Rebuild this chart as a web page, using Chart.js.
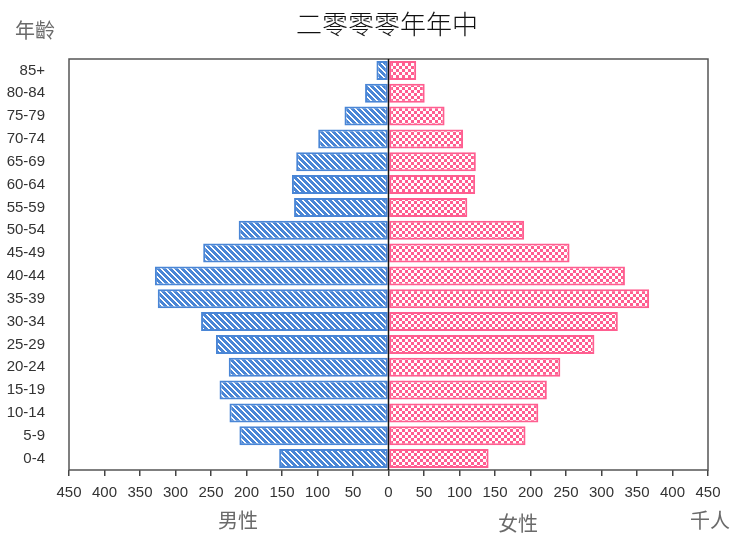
<!DOCTYPE html>
<html>
<head>
<meta charset="utf-8">
<script src="https://cdn.jsdelivr.net/npm/chart.js@4"></script>
<style>
  html, body { margin: 0; padding: 0; background: #fff; }
  #wrap { position: relative; width: 732px; height: 538px; }
  canvas { position: absolute; left: 0; top: 0; }
  .lbl { position: absolute; font-family: "Noto Sans CJK TC", "Noto Sans CJK SC", sans-serif; color: #6a6a6a; font-size: 20px; line-height: 1; white-space: nowrap; }
  #title { position: absolute; left: 287px; width: 200px; top: 7px; text-align: center; font-family: "Noto Sans CJK TC", "Noto Sans CJK SC", sans-serif; font-size: 26px; line-height: 1.2; color: #111; font-weight: 300; white-space: nowrap; }
</style>
</head>
<body>
<div id="wrap">
  <canvas id="c" width="732" height="538"></canvas>
  <div id="title">二零零零年年中</div>
  <div class="lbl" style="left:15px; top:20px;">年齡</div>
  <div class="lbl" style="left:218px; top:510px;">男性</div>
  <div class="lbl" style="left:498px; top:513px;">女性</div>
  <div class="lbl" style="left:690px; top:510px;">千人</div>
</div>
<script>
// Data (thousands of persons), age groups from youngest to oldest
const ageGroups = ["0-4","5-9","10-14","15-19","20-24","25-29","30-34","35-39","40-44","45-49","50-54","55-59","60-64","65-69","70-74","75-79","80-84","85+"];
const maleValues = [154, 210, 224, 238, 225, 243, 264, 325, 329, 261, 211, 133, 136, 130, 99, 62, 33, 17];
const femaleValues = [141, 193, 211, 223, 242, 290, 323, 367, 333, 255, 191, 111, 122, 123, 105, 79, 51, 39];
const xTicks = [-450,-400,-350,-300,-250,-200,-150,-100,-50,0,50,100,150,200,250,300,350,400,450];

const BLUE = '#4a86d6';
const PINK = '#ff5e90';

function stripePattern() {
  const s = 6, cv = document.createElement('canvas');
  cv.width = s; cv.height = s;
  const cx = cv.getContext('2d');
  const img = cx.createImageData(s, s);
  for (let y = 0; y < s; y++) for (let x = 0; x < s; x++) {
    const i = (y * s + x) * 4;
    const white = ((x - y) % s + s) % s < 2;
    const c = white ? [255,255,255] : [74,134,214];
    img.data[i] = c[0]; img.data[i+1] = c[1]; img.data[i+2] = c[2]; img.data[i+3] = 255;
  }
  cx.putImageData(img, 0, 0);
  return cx.createPattern(cv, 'repeat');
}
function checkerPattern() {
  const s = 6, cv = document.createElement('canvas');
  cv.width = s; cv.height = s;
  const cx = cv.getContext('2d');
  const img = cx.createImageData(s, s);
  for (let y = 0; y < s; y++) for (let x = 0; x < s; x++) {
    const i = (y * s + x) * 4;
    const white = (Math.floor(x / 3) + Math.floor(y / 3)) % 2 === 0;
    const c = white ? [255,255,255] : [255,94,144];
    img.data[i] = c[0]; img.data[i+1] = c[1]; img.data[i+2] = c[2]; img.data[i+3] = 255;
  }
  cx.putImageData(img, 0, 0);
  return cx.createPattern(cv, 'repeat');
}

const framePlugin = {
  id: 'frame',
  afterDatasetsDraw(chart) {
    const {ctx, chartArea: a, scales} = chart;
    ctx.save();
    ctx.strokeStyle = '#555';
    ctx.lineWidth = 1.5;
    ctx.strokeRect(a.left, a.top, a.right - a.left, a.bottom - a.top);
    const x0 = scales.x.getPixelForValue(0);
    ctx.strokeStyle = '#111';
    ctx.lineWidth = 1.5;
    ctx.beginPath();
    ctx.moveTo(x0, a.top);
    ctx.lineTo(x0, a.bottom);
    ctx.stroke();
    ctx.restore();
  }
};

new Chart(document.getElementById('c'), {
  type: 'bar',
  data: {
    labels: ageGroups,
    datasets: [
      {
        label: '男性',
        data: maleValues.map(v => -v),
        backgroundColor: stripePattern(),
        borderColor: BLUE,
        borderWidth: 2,
        borderSkipped: false,
        barPercentage: 0.83,
        categoryPercentage: 1.0
      },
      {
        label: '女性',
        data: femaleValues,
        backgroundColor: checkerPattern(),
        borderColor: PINK,
        borderWidth: 2,
        borderSkipped: false,
        barPercentage: 0.83,
        categoryPercentage: 1.0
      }
    ]
  },
  options: {
    indexAxis: 'y',
    responsive: false,
    animation: false,
    devicePixelRatio: 1,
    layout: { padding: { left: 0, right: 24, top: 59, bottom: 0 } },
    plugins: {
      legend: { display: false },
      tooltip: { enabled: false },
      title: { display: false }
    },
    scales: {
      x: {
        type: 'linear',
        stacked: true,
        min: -450,
        max: 450,
        afterBuildTicks(scale) { scale.ticks = xTicks.map(v => ({ value: v })); },
        afterFit(scale) { scale.height = 68; },
        grid: { display: true, drawOnChartArea: false, drawTicks: true, tickLength: 6, color: '#444', lineWidth: 1.5 },
        border: { display: false },
        ticks: {
          autoSkip: false,
          maxRotation: 0,
          padding: 8,
          color: '#333',
          font: { family: '"Liberation Sans", Arial, sans-serif', size: 15 },
          callback: v => Math.abs(v)
        }
      },
      y: {
        stacked: true,
        reverse: true,
        afterFit(scale) { scale.width = 69; },
        grid: { display: false, drawTicks: false },
        border: { display: false },
        ticks: {
          padding: 24,
          color: '#333',
          font: { family: '"Liberation Sans", Arial, sans-serif', size: 15 }
        }
      }
    }
  },
  plugins: [framePlugin]
});
</script>
</body>
</html>
